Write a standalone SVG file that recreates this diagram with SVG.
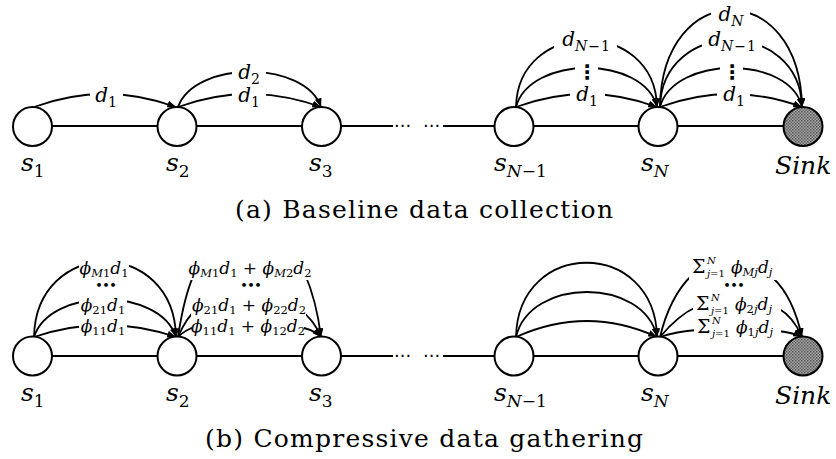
<svg xmlns="http://www.w3.org/2000/svg" width="836" height="459" viewBox="0 0 836 459">
<style>
.ln{stroke:#000;stroke-width:2;fill:none}
.nd{stroke:#000;stroke-width:2;fill:#fff}
.arc{stroke:#000;stroke-width:1.8;fill:none;marker-end:url(#ah)}
.m{font-family:"DejaVu Serif",serif;font-style:italic;font-size:17px;fill:#000}
.d{font-size:20px}
.sd{font-size:14px}
.sb{font-size:11.5px}
.sx{font-size:10px}
.up{font-style:normal}
.sl{font-family:"DejaVu Serif",serif;font-style:italic;font-size:25px;fill:#000}
.ss{font-size:17px}
.cap{font-family:"DejaVu Serif",serif;font-size:25px;fill:#000}
.bg{fill:#fff}
.vd{font-family:"DejaVu Sans",sans-serif;font-weight:bold;font-size:20px}
.bd{font-family:"DejaVu Sans",sans-serif;font-weight:bold;font-size:11px}
.hd{font-family:"DejaVu Sans",sans-serif;font-size:18px}
</style>
<defs>
<marker id="ah" viewBox="0 0 10 8" refX="10" refY="4" markerWidth="9" markerHeight="7" markerUnits="userSpaceOnUse" orient="auto"><path d="M0,0 L10,4 L0,8 z" fill="#000"/></marker>
<pattern id="grain" width="3" height="3" patternUnits="userSpaceOnUse"><rect width="3" height="3" fill="#a6a6a6"/><rect x="0" y="0" width="1.5" height="1.5" fill="#555"/><rect x="1.5" y="1.5" width="1.5" height="1.5" fill="#666"/></pattern>
</defs>
<rect width="836" height="459" fill="#fff"/>

<g id="connectors">
<path class="ln" d="M52,126 H157 M197,126 H302 M341,126 H393 M443,126 H494 M534,126 H638 M678,126 H783"/>
<path class="ln" d="M52,356 H157 M197,356 H302 M341,356 H393 M443,356 H494 M534,356 H638 M678,356 H783"/>
<path class="arc" d="M34,107 Q105,81 176,107"/>
<path class="arc" d="M178,107 Q249,81 321,107"/>
<path class="arc" d="M178,107 C195,60 305,60 321,107"/>
<path class="arc" d="M516,107 Q587,81 657,107"/>
<path class="arc" d="M516,107 C530,55 644,55 657,107"/>
<path class="arc" d="M516,107 C518,18 655,18 657,107"/>
<path class="arc" d="M660,107 Q731,81 802,107"/>
<path class="arc" d="M660,107 C674,55 790,55 802,107"/>
<path class="arc" d="M660,107 C662,18 800,18 802,107"/>
<path class="arc" d="M660,107 C662,-22 800,-22 802,107"/>
<path class="arc" d="M34,337 Q105,313 176,337"/>
<path class="arc" d="M34,337 C50,287 160,287 176,337"/>
<path class="arc" d="M34,337 C36,237 174,237 176,337"/>
<path class="arc" d="M178,337 C184,331 190,328 198,326 L298,327 C308,328 315,331 321,337"/>
<path class="arc" d="M178,337 C183,325 189,315 198,308 L300,310 C309,316 316,325 321,337"/>
<path class="arc" d="M178,337 C182,310 187,288 196,270 L304,272 C312,290 318,312 321,337"/>
<path class="arc" d="M516,337 Q587,305 657,337"/>
<path class="arc" d="M516,337 C530,277 644,277 657,337"/>
<path class="arc" d="M516,337 C518,238 655,238 657,337"/>
<path class="arc" d="M660,337 C672,333 684,331 697,330 L778,331 C788,332 796,334 802,337"/>
<path class="arc" d="M660,337 C670,325 681,314 696,307 L778,308 C790,315 797,325 802,337"/>
<path class="arc" d="M660,337 C666,312 675,292 691,276 L773,278 C786,290 796,310 802,337"/>
</g>

<g id="gap-dots">
<text class="hd" x="394" y="132">···</text>
<text class="hd" x="423" y="132">···</text>
<text class="hd" x="394" y="362">···</text>
<text class="hd" x="423" y="362">···</text>
</g>

<g id="edge-labels-a">
<rect class="bg" x="90" y="84" width="33" height="26"/>
<text class="m d" x="106" y="102" text-anchor="middle">d<tspan class="sd up" dy="5">1</tspan></text>
<rect class="bg" x="232" y="61" width="34" height="24"/>
<text class="m d" x="249" y="79" text-anchor="middle">d<tspan class="sd up" dy="5">2</tspan></text>
<rect class="bg" x="232" y="86" width="34" height="24"/>
<text class="m d" x="249" y="102" text-anchor="middle">d<tspan class="sd up" dy="5">1</tspan></text>
<rect class="bg" x="554" y="28" width="63" height="27"/>
<text class="m d" x="586" y="46" text-anchor="middle">d<tspan class="sd" dy="5">N<tspan class="up" dx="1">−</tspan><tspan class="up" dx="1">1</tspan></tspan></text>
<rect class="bg" x="575" y="58" width="23" height="22"/>
<text class="vd" x="587" y="79" text-anchor="middle">⋮</text>
<rect class="bg" x="570" y="84" width="35" height="25"/>
<text class="m d" x="587" y="101" text-anchor="middle">d<tspan class="sd up" dy="5">1</tspan></text>
<rect class="bg" x="711" y="2" width="39" height="26"/>
<text class="m d" x="731" y="21" text-anchor="middle">d<tspan class="sd" dy="5">N</tspan></text>
<rect class="bg" x="702" y="28" width="60" height="27"/>
<text class="m d" x="732" y="46" text-anchor="middle">d<tspan class="sd" dy="5">N<tspan class="up" dx="1">−</tspan><tspan class="up" dx="1">1</tspan></tspan></text>
<rect class="bg" x="720" y="58" width="23" height="22"/>
<text class="vd" x="732" y="79" text-anchor="middle">⋮</text>
<rect class="bg" x="717" y="84" width="33" height="25"/>
<text class="m d" x="734" y="101" text-anchor="middle">d<tspan class="sd up" dy="5">1</tspan></text>
</g>

<g id="edge-labels-b">
<rect class="bg" x="79" y="256" width="50" height="24"/>
<text class="m" x="104" y="274" text-anchor="middle">ϕ<tspan class="sb" dy="3">M<tspan class="up">1</tspan></tspan><tspan dy="-3">d</tspan><tspan class="sb up" dy="3">1</tspan></text>
<text class="bd" x="106" y="289" text-anchor="middle">•••</text>
<rect class="bg" x="79" y="294" width="48" height="22"/>
<text class="m" x="103" y="311" text-anchor="middle">ϕ<tspan class="sb up" dy="3">21</tspan><tspan dy="-3">d</tspan><tspan class="sb up" dy="3">1</tspan></text>
<rect class="bg" x="79" y="318" width="48" height="20"/>
<text class="m" x="103" y="332" text-anchor="middle">ϕ<tspan class="sb up" dy="3">11</tspan><tspan dy="-3">d</tspan><tspan class="sb up" dy="3">1</tspan></text>

<rect class="bg" x="189" y="255" width="122" height="25"/>
<text class="m" x="250" y="274" text-anchor="middle">ϕ<tspan class="sb" dy="3">M<tspan class="up">1</tspan></tspan><tspan dy="-3">d</tspan><tspan class="sb up" dy="3">1</tspan><tspan class="up" dy="-3"> + </tspan>ϕ<tspan class="sb" dy="3">M<tspan class="up">2</tspan></tspan><tspan dy="-3">d</tspan><tspan class="sb up" dy="3">2</tspan></text>
<text class="bd" x="251" y="289" text-anchor="middle">•••</text>
<rect class="bg" x="191" y="294" width="115" height="22"/>
<text class="m" x="249" y="311" text-anchor="middle">ϕ<tspan class="sb up" dy="3">21</tspan><tspan dy="-3">d</tspan><tspan class="sb up" dy="3">1</tspan><tspan class="up" dy="-3"> + </tspan>ϕ<tspan class="sb up" dy="3">22</tspan><tspan dy="-3">d</tspan><tspan class="sb up" dy="3">2</tspan></text>
<rect class="bg" x="192" y="318" width="112" height="20"/>
<text class="m" x="248" y="332" text-anchor="middle">ϕ<tspan class="sb up" dy="3">11</tspan><tspan dy="-3">d</tspan><tspan class="sb up" dy="3">1</tspan><tspan class="up" dy="-3"> + </tspan>ϕ<tspan class="sb up" dy="3">12</tspan><tspan dy="-3">d</tspan><tspan class="sb up" dy="3">2</tspan></text>

<rect class="bg" x="689" y="252" width="90" height="28"/>
<text class="m" x="692" y="273"><tspan class="up" font-size="19">Σ</tspan><tspan class="sx" x="707" y="264">N</tspan><tspan class="sx" x="707" y="277">j<tspan class="up">=1</tspan></tspan><tspan x="731" y="273">ϕ</tspan><tspan class="sb" dy="3">Mj</tspan><tspan dy="-3">d</tspan><tspan class="sb" dy="3">j</tspan></text>
<text class="bd" x="734" y="289" text-anchor="middle">•••</text>
<rect class="bg" x="693" y="291" width="88" height="25"/>
<text class="m" x="696" y="310"><tspan class="up" font-size="19">Σ</tspan><tspan class="sx" x="711" y="301">N</tspan><tspan class="sx" x="711" y="314">j<tspan class="up">=1</tspan></tspan><tspan x="735" y="310">ϕ</tspan><tspan class="sb" dy="3"><tspan class="up">2</tspan>j</tspan><tspan dy="-3">d</tspan><tspan class="sb" dy="3">j</tspan></text>
<rect class="bg" x="694" y="316" width="87" height="24"/>
<text class="m" x="697" y="333"><tspan class="up" font-size="19">Σ</tspan><tspan class="sx" x="712" y="324">N</tspan><tspan class="sx" x="712" y="337">j<tspan class="up">=1</tspan></tspan><tspan x="736" y="333">ϕ</tspan><tspan class="sb" dy="3"><tspan class="up">1</tspan>j</tspan><tspan dy="-3">d</tspan><tspan class="sb" dy="3">j</tspan></text>
</g>

<g id="a-s1"><circle class="nd" cx="32.5" cy="126.5" r="19.5"/><text class="sl" x="21" y="171">s<tspan class="ss up" dy="6">1</tspan></text></g>
<g id="a-s2"><circle class="nd" cx="177" cy="126.5" r="19.5"/><text class="sl" x="166" y="171">s<tspan class="ss up" dy="6">2</tspan></text></g>
<g id="a-s3"><circle class="nd" cx="321.5" cy="126.5" r="19.5"/><text class="sl" x="309" y="171">s<tspan class="ss up" dy="6">3</tspan></text></g>
<g id="a-sN-1"><circle class="nd" cx="514" cy="126.5" r="19.5"/><text class="sl" x="494" y="171">s<tspan class="ss" dy="6">N<tspan class="up">−1</tspan></tspan></text></g>
<g id="a-sN"><circle class="nd" cx="658" cy="126.5" r="19.5"/><text class="sl" x="641" y="171">s<tspan class="ss" dy="6">N</tspan></text></g>
<g id="a-sink"><circle class="nd" cx="803" cy="126.5" r="19.5" style="fill:url(#grain)"/><text class="sl" x="775" y="174">Sink</text></g>

<g id="b-s1"><circle class="nd" cx="32.5" cy="356" r="19.5"/><text class="sl" x="21" y="401">s<tspan class="ss up" dy="6">1</tspan></text></g>
<g id="b-s2"><circle class="nd" cx="177" cy="356" r="19.5"/><text class="sl" x="166" y="401">s<tspan class="ss up" dy="6">2</tspan></text></g>
<g id="b-s3"><circle class="nd" cx="321.5" cy="356" r="19.5"/><text class="sl" x="309" y="401">s<tspan class="ss up" dy="6">3</tspan></text></g>
<g id="b-sN-1"><circle class="nd" cx="514" cy="356" r="19.5"/><text class="sl" x="494" y="401">s<tspan class="ss" dy="6">N<tspan class="up">−1</tspan></tspan></text></g>
<g id="b-sN"><circle class="nd" cx="658" cy="356" r="19.5"/><text class="sl" x="641" y="401">s<tspan class="ss" dy="6">N</tspan></text></g>
<g id="b-sink"><circle class="nd" cx="803" cy="356" r="19.5" style="fill:url(#grain)"/><text class="sl" x="775" y="404">Sink</text></g>

<text class="cap" x="424" y="218" text-anchor="middle" textLength="378" lengthAdjust="spacing">(a) Baseline data collection</text>
<text class="cap" x="424" y="447" text-anchor="middle" textLength="438" lengthAdjust="spacing">(b) Compressive data gathering</text>
</svg>
